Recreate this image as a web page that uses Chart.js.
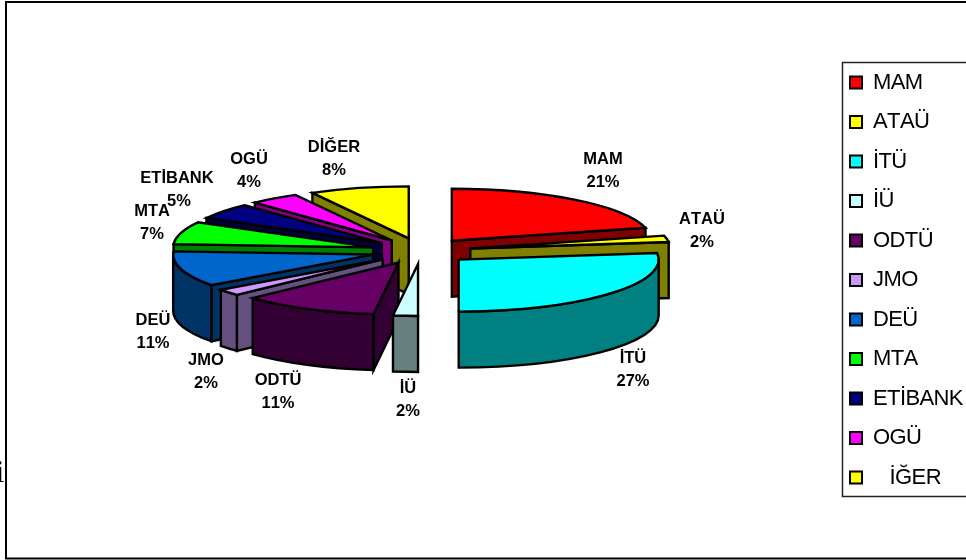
<!DOCTYPE html>
<html>
<head>
<meta charset="utf-8">
<style>
  html, body { margin: 0; padding: 0; background: #fff; }
  #wrap { width: 966px; height: 560px; }
  canvas { display: block; }
</style>
<script src="https://cdn.jsdelivr.net/npm/chart.js@4/dist/chart.umd.min.js"></script>
</head>
<body>
<div id="wrap"><canvas id="pie" width="966" height="560"></canvas></div>
<script>
// Institutions and their shares, in percent
const categories = ['MAM', 'ATAÜ', 'İTÜ', 'İÜ', 'ODTÜ', 'JMO', 'DEÜ', 'MTA', 'ETİBANK', 'OGÜ', 'DİĞER'];
const shares = [21, 2, 27, 2, 11, 2, 11, 7, 5, 4, 8];
const legendTexts = ['MAM', 'ATAÜ', 'İTÜ', 'İÜ', 'ODTÜ', 'JMO', 'DEÜ', 'MTA', 'ETİBANK', 'OGÜ', '   İĞER'];
const topColors = ['#FF0000', '#FFFF00', '#00FFFF', '#CCFFFF', '#660066', '#CC99FF', '#0066CC', '#00FF00', '#000080', '#FF00FF', '#FFFF00'];
const wallColors = ['#800000', '#808000', '#008080', '#668080', '#330033', '#665080', '#003366', '#008000', '#000040', '#800080', '#808000'];

// Tilted-disc projection and slice layout
const TILT = 0.26;         // vertical squash of the disc
const DEPTH = 56;          // wall height in pixels
const EXPLODE = 50;        // distance each slice is pulled from the centre
const PAINT_ORDER = [0, 1, 2, 10, 9, 8, 7, 6, 5, 4, 3];  // back to front
const LABEL_ANCHORS = [[603, 159], [702, 219], [633, 358], [408, 388], [278, 380], [206, 360],
                       [153, 320], [152, 211], [177, 178], [249, 159], [334, 147]];
const LABEL_LINE = 23.5;

const pie3d = {
  id: 'pie3d',
  afterLayout(chart) {
    // Legend column sits against the right edge, inside its ruled box
    const lg = chart.legend;
    const w = lg.right - lg.left;
    lg.left = 832.5;
    lg.right = lg.left + w;
    lg.top = 54;
    lg.bottom = 560;
  },
  beforeDraw(chart) {
    chart.ctx.fontKerning = 'none';
    chart.ctx.letterSpacing = '-0.6px';
  },
  beforeDatasetsDraw(chart) {
    const ctx = chart.ctx;
    const arcs = chart.getDatasetMeta(0).data;
    for (const i of PAINT_ORDER) drawSlice(ctx, arcs[i], i);
    return false;
  },
  afterDraw(chart) {
    const ctx = chart.ctx;
    ctx.save();
    ctx.letterSpacing = '0px';
    // Frame and legend rules
    ctx.strokeStyle = '#000';
    ctx.lineWidth = 2;
    ctx.beginPath();
    ctx.moveTo(966, 2); ctx.lineTo(6, 2); ctx.lineTo(6, 558.5); ctx.lineTo(966, 558.5);
    ctx.stroke();
    ctx.strokeStyle = '#222';
    ctx.lineWidth = 1.5;
    ctx.beginPath();
    ctx.moveTo(966, 62.5); ctx.lineTo(842.5, 62.5); ctx.lineTo(842.5, 496.5); ctx.lineTo(966, 496.5);
    ctx.stroke();

    // Slice captions
    ctx.fillStyle = '#000';
    ctx.font = 'bold 16.5px "Liberation Sans", Arial, sans-serif';
    ctx.textAlign = 'center';
    ctx.textBaseline = 'middle';
    categories.forEach((name, i) => {
      const [x, y] = LABEL_ANCHORS[i];
      ctx.fillText(name, x, y);
      ctx.fillText(shares[i] + '%', x + (name === 'ETİBANK' ? 2 : 0), y + LABEL_LINE);
    });

    // Stray character cut off by the left margin
    ctx.font = '32px "Liberation Serif", serif';
    ctx.textAlign = 'right';
    ctx.textBaseline = 'alphabetic';
    ctx.fillText('i', 4.5, 482);
    ctx.restore();
  }
};

function drawSlice(ctx, el, i) {
  const r = el.outerRadius;
  const mid = (el.startAngle + el.endAngle) / 2;
  const ax = el.x + EXPLODE * Math.cos(mid);
  const ay = el.y + EXPLODE * TILT * Math.sin(mid);
  const rim = a => [ax + r * Math.cos(a), ay + r * TILT * Math.sin(a)];

  ctx.save();
  ctx.lineJoin = 'miter';
  ctx.lineWidth = 2.4;
  ctx.strokeStyle = '#000';
  ctx.fillStyle = wallColors[i];

  // Radial side faces, shown only where they turn towards the viewer
  const face = a => {
    const [px, py] = rim(a);
    ctx.beginPath();
    ctx.moveTo(ax, ay);
    ctx.lineTo(px, py);
    ctx.lineTo(px, py + DEPTH);
    ctx.lineTo(ax, ay + DEPTH);
    ctx.closePath();
    ctx.fill();
    ctx.stroke();
  };
  const thetaStart = el.startAngle + Math.PI / 2;
  const thetaEnd = el.endAngle + Math.PI / 2;
  if (Math.sin(thetaStart) < -1e-6) face(el.startAngle);
  if (Math.sin(thetaEnd) > 1e-6) face(el.endAngle);

  // Outer rim wall on the front half of the disc
  let a0 = el.startAngle, a1 = el.endAngle;
  const PI = Math.PI;
  if (a0 < 0 && a1 > 0) a0 = 0;
  if (a0 < PI && a1 > PI) a1 = PI;
  if (a0 >= 0 && a1 <= PI && a1 > a0) {
    ctx.beginPath();
    ctx.ellipse(ax, ay, r, r * TILT, 0, a0, a1);
    ctx.ellipse(ax, ay + DEPTH, r, r * TILT, 0, a1, a0, true);
    ctx.closePath();
    ctx.fill();
    ctx.stroke();
  }

  // Top face: the library's own arc under the disc transform
  ctx.save();
  ctx.translate(ax, ay);
  ctx.scale(1, TILT);
  ctx.translate(-el.x, -el.y);
  el.draw(ctx);
  ctx.restore();

  ctx.beginPath();
  ctx.moveTo(ax, ay);
  ctx.ellipse(ax, ay, r, r * TILT, 0, el.startAngle, el.endAngle);
  ctx.closePath();
  ctx.stroke();
  ctx.restore();
}

new Chart(document.getElementById('pie'), {
  type: 'pie',
  data: {
    labels: categories,
    datasets: [{
      data: shares,
      backgroundColor: topColors,
      borderWidth: 0,
      radius: 200
    }]
  },
  options: {
    responsive: false,
    animation: false,
    events: [],
    layout: { padding: { top: 0, bottom: 58, left: 21, right: 0 } },
    plugins: {
      tooltip: { enabled: false },
      title: { display: false },
      legend: {
        position: 'right',
        align: 'start',
        labels: {
          boxWidth: 12,
          boxHeight: 12,
          padding: 17.5,
          color: '#000',
          font: { family: '"Liberation Sans", Arial, sans-serif', size: 22 },
          generateLabels: () => legendTexts.map((text, i) => ({
            text,
            fillStyle: topColors[i],
            strokeStyle: '#000',
            lineWidth: 2,
            hidden: false,
            index: i
          }))
        }
      }
    }
  },
  plugins: [pie3d]
});
</script>
</body>
</html>
